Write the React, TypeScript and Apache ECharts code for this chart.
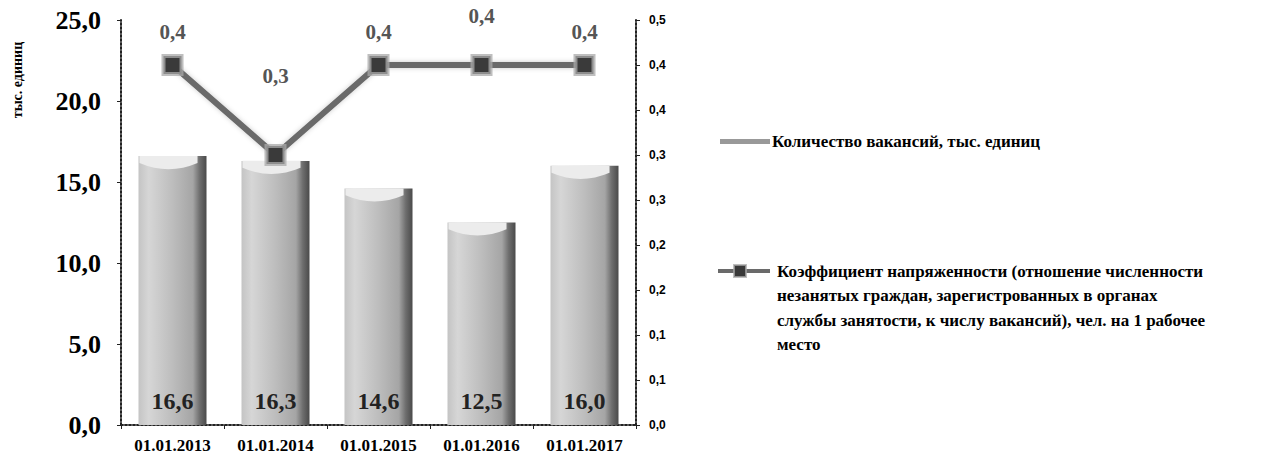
import React, { useEffect, useRef } from 'react';
import * as echarts from 'echarts';

const categories = ['01.01.2013', '01.01.2014', '01.01.2015', '01.01.2016', '01.01.2017'];
const vacancies = [16.6, 16.3, 14.6, 12.5, 16.0];
const tension = [0.4, 0.3, 0.4, 0.4, 0.4];
const barName = 'Количество вакансий, тыс. единиц';
const lineName =
  'Коэффициент напряженности (отношение численности\nнезанятых граждан, зарегистрованных в органах\nслужбы занятости, к числу вакансий), чел. на 1 рабочее\nместо';
const yTitle = 'тыс. единиц';

const lineLabelShift = [0, -46, 0, -16, 0];
const SERIF = "'Liberation Serif', serif";
const SANS = "'Liberation Sans', sans-serif";

const comma1 = (v: number) => (Math.round(v * 10 + 1e-6) / 10).toFixed(1).replace('.', ',');

export default function App() {
  const ref = useRef<HTMLDivElement>(null);
  useEffect(() => {
    if (!ref.current) return;
    const chart = echarts.init(ref.current, undefined, { renderer: 'svg' });
    const barGradient = new echarts.graphic.LinearGradient(0, 0, 1, 0, [
      { offset: 0, color: '#c4c4c4' },
      { offset: 0.15, color: '#d6d6d6' },
      { offset: 0.5, color: '#bdbdbd' },
      { offset: 0.8, color: '#a5a5a5' },
      { offset: 0.9, color: '#6e6e6e' },
      { offset: 1, color: '#4a4a4a' },
    ]);
    const axisLine = { show: true, lineStyle: { color: '#222', width: 2, type: 'dotted' as const } };
    chart.setOption({
      animation: false,
      grid: { left: 121, right: 627, top: 20, bottom: 29, containLabel: false },
      xAxis: {
        type: 'category',
        data: categories,
        boundaryGap: true,
        axisLine,
        axisTick: { show: true, length: 4, lineStyle: { color: '#222' } },
        axisLabel: {
          color: '#000',
          fontFamily: SERIF,
          fontWeight: 'bold',
          fontSize: 17,
          margin: 12,
          interval: 0,
          hideOverlap: false,
        },
        splitLine: { show: false },
      },
      yAxis: [
        {
          type: 'value',
          min: 0,
          max: 25,
          interval: 5,
          axisLine,
          axisTick: { show: true, length: 4, lineStyle: { color: '#222' } },
          splitLine: { show: false },
          axisLabel: {
            color: '#000',
            fontFamily: SERIF,
            fontWeight: 'bold',
            fontSize: 26,
            margin: 20,
            formatter: (v: number) => comma1(v),
          },
        },
        {
          type: 'value',
          min: 0,
          max: 0.45,
          interval: 0.05,
          position: 'right',
          axisLine,
          axisTick: { show: true, length: 4, lineStyle: { color: '#222' } },
          splitLine: { show: false },
          axisLabel: {
            color: '#000',
            fontFamily: SANS,
            fontWeight: 'bold',
            fontSize: 12,
            margin: 13,
            formatter: (v: number) => comma1(v),
          },
        },
      ],
      series: [
        {
          name: barName,
          type: 'bar',
          data: vacancies,
          barWidth: 68,
          barGap: '-100%',
          z: 2,
          itemStyle: { color: barGradient },
          label: {
            show: true,
            position: 'insideBottom',
            distance: 12,
            fontFamily: SERIF,
            fontWeight: 'bold',
            fontSize: 24,
            color: '#222',
            formatter: (p: any) => comma1(p.value),
          },
        },
        {
          name: 'cap',
          type: 'pictorialBar',
          data: vacancies,
          barWidth: 68,
          barGap: '-100%',
          symbol: 'path://M0,0 L100,0 L100,25 Q50,70 0,25 Z',
          symbolSize: [58, 13],
          symbolPosition: 'end',
          symbolOffset: [-4, 0],
          silent: true,
          z: 3,
          itemStyle: { color: '#ececec' },
        },
        {
          name: lineName,
          type: 'line',
          yAxisIndex: 1,
          z: 5,
          data: tension.map((v, i) => ({
            value: v,
            label: { offset: [0, lineLabelShift[i]] },
          })),
          symbol: 'rect',
          symbolSize: 18,
          itemStyle: { color: '#3a3a3a', borderColor: 'rgba(170,170,170,0.75)', borderWidth: 4 },
          lineStyle: { color: '#6a6a6a', width: 6, shadowColor: 'rgba(0,0,0,0.2)', shadowBlur: 5 },
          label: {
            show: true,
            position: 'top',
            distance: 12,
            fontFamily: SERIF,
            fontWeight: 'bold',
            fontSize: 21,
            color: '#555',
            formatter: (p: any) => comma1(p.value),
          },
        },
      ],
      graphic: [
        {
          type: 'text',
          x: 17,
          y: 80,
          rotation: Math.PI / 2,
          style: {
            text: yTitle,
            fontFamily: SERIF,
            fontWeight: 'bold',
            fontSize: 14,
            fill: '#000',
            align: 'center',
            verticalAlign: 'middle',
          },
        },
        {
          type: 'rect',
          shape: { x: 720, y: 139, width: 50, height: 5 },
          style: { fill: '#999' },
        },
        {
          type: 'text',
          x: 772,
          y: 141,
          style: {
            text: barName,
            fontFamily: SERIF,
            fontWeight: 'bold',
            fontSize: 17,
            fill: '#000',
            verticalAlign: 'middle',
          },
        },
        {
          type: 'line',
          shape: { x1: 718, y1: 271, x2: 770, y2: 271 },
          style: { stroke: '#6a6a6a', lineWidth: 4 },
        },
        {
          type: 'rect',
          shape: { x: 734, y: 265, width: 12, height: 12 },
          style: { fill: '#3a3a3a', stroke: 'rgba(170,170,170,0.75)', lineWidth: 2 },
        },
        {
          type: 'text',
          x: 777,
          y: 259,
          style: {
            text: lineName,
            fontFamily: SERIF,
            fontWeight: 'bold',
            fontSize: 17,
            lineHeight: 24.5,
            fill: '#000',
            verticalAlign: 'top',
          },
        },
      ],
    });
    return () => chart.dispose();
  }, []);
  return (
    <div
      ref={ref}
      style={{ position: 'fixed', left: 0, top: 0, width: 1263, height: 454, background: '#fff' }}
    />
  );
}
